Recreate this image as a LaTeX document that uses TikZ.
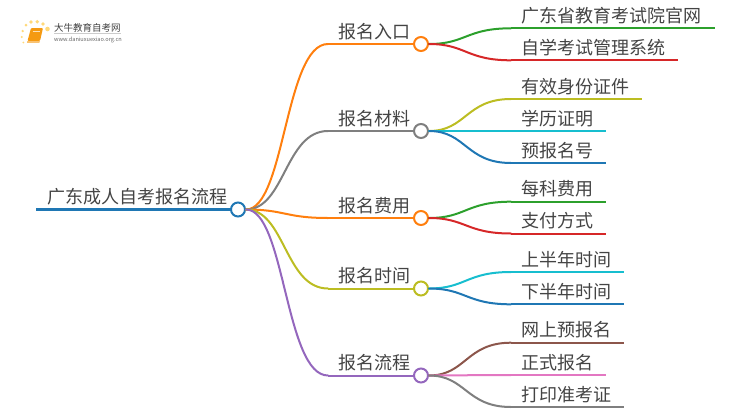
\documentclass[tikz,border=0pt]{standalone}
\usepackage{fontspec}
\newfontfamily\cjk{Noto Sans CJK SC}
\definecolor{cOrange}{HTML}{FF7F0E}
\definecolor{cGray}{HTML}{7F7F7F}
\definecolor{cOlive}{HTML}{BCBD22}
\definecolor{cPurple}{HTML}{9467BD}
\definecolor{cBlue}{HTML}{1F77B4}
\definecolor{cGreen}{HTML}{2CA02C}
\definecolor{cRed}{HTML}{D62728}
\definecolor{cCyan}{HTML}{17BECF}
\definecolor{cBrown}{HTML}{8C564B}
\definecolor{cPink}{HTML}{E377C2}
\definecolor{txt}{HTML}{444444}
\definecolor{dotc}{HTML}{FFD97A}
\definecolor{bookc}{HTML}{F59A12}
\tikzset{
 x=1pt,y=-1pt,
 lab/.style={font=\cjk\fontsize{18}{18}\selectfont,text=txt,anchor=base west,inner sep=0pt},
 knob/.style={circle,draw=#1,fill=white,line width=2pt,minimum size=14pt,inner sep=0pt},
 link/.style={draw=#1,line width=2pt,line cap=round},
 leaf/.style={draw=#1,line width=2pt},
}
\newcommand{\branch}[4]{% name, y, colour, text
 \coordinate (#1s) at (328,#2);
 \coordinate (#1c) at (466,#2);
 \coordinate (#1d) at (285,#2);
 \node[lab] (#1t) at (338,#2-6) {#4};
 \draw[link=#3] (r.east) .. controls (285,209.5) and (#1d) .. (#1s);
 \draw[leaf=#3] (#1s) -- (421,#2) node[knob=#3] (#1) {};
}
\newcommand{\leafnode}[6]{% parent, name, y, end x, colour, text
 \coordinate (#2s) at (511,#3);
 \coordinate (#2e) at (#4,#3);
 \node[lab] (#2t) at (521,#3-6) {#6};
 \draw[link=#5] (#1.east) .. controls (#1c) and (466,#3) .. (#2s);
 \draw[leaf=#5] (#2s) -- (#2e);
}
\begin{document}
\begin{tikzpicture}
\useasboundingbox (0,0) rectangle (750,410);
% logo
\foreach \a/\b/\c in {26/25/1.5,31/22/1.8,37.3/21.7/1.9,43/24/1.9,47.5/29/2.3,22.7/31/1.3,21.8/37/1.1,23.3/42.5/1}
  \fill[dotc] (\a,\b) circle (\c);
\fill[bookc,rounded corners=1pt] (31,28) -- (43,28) -- (40,41) -- (27.5,41) -- cycle;
\fill[bookc!60!white] (27.3,41) -- (40,41) -- (39.3,42.8) -- (27,42.8) -- cycle;
\draw[white!70!bookc,line width=.5pt] (32.5,31.5) -- (40,31.5);
\node[font=\cjk\fontsize{9.5}{10}\selectfont,text=black!75,anchor=base west,inner sep=0pt] (logot) at (54,31) {大牛教育自考网};
\draw[black!20,line width=.5pt] (54,33.3) -- (121,33.3);
\node[font=\cjk\fontsize{5.6}{6}\selectfont,text=black!60,anchor=base west,inner sep=0pt] (logou) at (54,41) {www.daniuxuexiao.org.cn};
% root
\coordinate (rs) at (36,209.5);
\node[lab] (rt) at (47,203) {广东成人自考报名流程};
\draw[leaf=cBlue,line width=2.8pt] (rs) -- (238,209.5) node[knob=cBlue] (r) {};
% level one
\branch{a}{44}{cOrange}{报名入口}
\branch{b}{131}{cGray}{报名材料}
\branch{c}{218}{cOrange}{报名费用}
\branch{d}{288.5}{cOlive}{报名时间}
\branch{e}{375.5}{cPurple}{报名流程}
% leaves
\leafnode{a}{a1}{28.3}{715}{cGreen}{广东省教育考试院官网}
\leafnode{a}{a2}{60.3}{678}{cRed}{自学考试管理系统}
\leafnode{b}{b1}{99}{642}{cOlive}{有效身份证件}
\leafnode{b}{b2}{131}{606}{cCyan}{学历证明}
\leafnode{b}{b3}{163}{606}{cBlue}{预报名号}
\leafnode{c}{c1}{201.7}{606}{cGreen}{每科费用}
\leafnode{c}{c2}{233.5}{606}{cRed}{支付方式}
\leafnode{d}{d1}{272}{624}{cCyan}{上半年时间}
\leafnode{d}{d2}{304.3}{624}{cBlue}{下半年时间}
\leafnode{e}{e1}{342.7}{624}{cBrown}{网上预报名}
\leafnode{e}{e2}{375}{606}{cPink}{正式报名}
\leafnode{e}{e3}{407}{624}{cGray}{打印准考证}
\end{tikzpicture}
\end{document}
